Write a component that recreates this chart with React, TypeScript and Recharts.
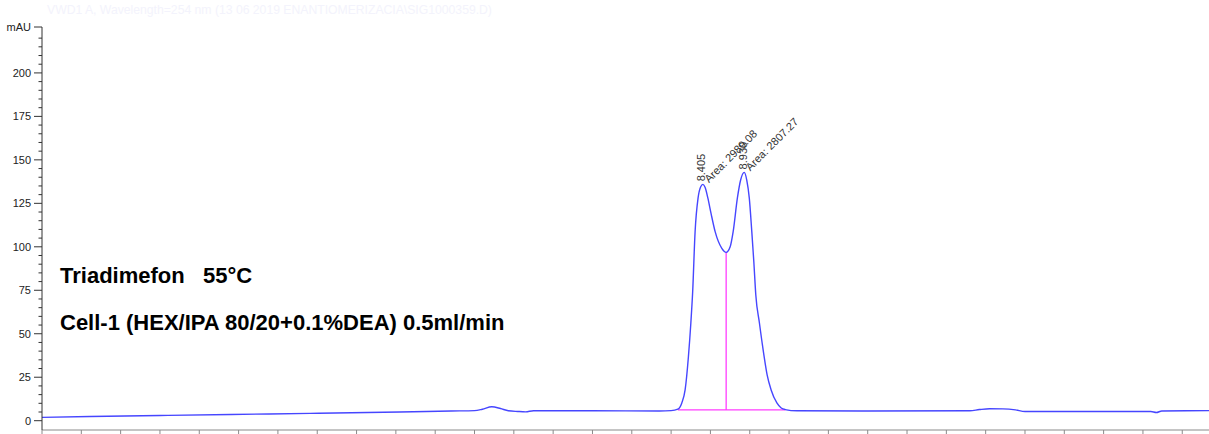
import { LineChart, Line, XAxis, YAxis, ReferenceLine, ReferenceDot } from "recharts"

// retention time (min) and detector signal (mAU)
const TIME = [
  0.0, 0.61, 1.5, 2.4, 3.41, 4.55, 5.2, 5.5, 5.6, 5.72, 5.83, 5.93, 6.05, 6.15, 6.25,
  7.0, 7.85, 8.0,
  8.085, 8.136, 8.178, 8.22, 8.251, 8.274, 8.305, 8.343, 8.375, 8.405, 8.433, 8.467,
  8.509, 8.56, 8.645, 8.7, 8.751, 8.789, 8.843, 8.884, 8.93, 8.962, 8.994, 9.026,
  9.052, 9.077, 9.123, 9.183, 9.221, 9.272, 9.345, 9.4, 9.451,
  9.6, 10.5, 11.8, 11.92, 12.05, 12.22, 12.38, 12.5, 13.5, 14.1, 14.17, 14.24, 14.84,
]
const SIGNAL = [
  1.9, 2.4, 3.0, 3.6, 4.2, 5.0, 5.6, 5.8, 6.6, 8.0, 7.0, 5.7, 5.3, 5.1, 5.7,
  5.7, 5.6, 5.8,
  6.6, 10.2, 17.7, 36.8, 56.2, 74.0, 108.7, 128.1, 134.4, 135.9, 134.1, 128.1,
  118.9, 108.7, 99.1, 96.8, 100.0, 108.7, 128.1, 138.4, 142.8, 138.4, 128.1, 108.7,
  91.3, 72.3, 56.2, 36.8, 26.3, 17.7, 10.2, 7.3, 6.4,
  5.7, 5.6, 5.7, 6.4, 6.9, 6.8, 6.2, 5.3, 5.3, 5.3, 4.7, 5.6, 5.8,
]

const X_MAX = 14.84
const Y_BOTTOM = -5.35
const Y_TOP = 226.4

const X_TICKS = [
  0, 0.5, 1, 1.5, 2, 2.5, 3, 3.5, 4, 4.5, 5, 5.5, 6, 6.5, 7, 7.5, 8, 8.5, 9, 9.5,
  10, 10.5, 11, 11.5, 12, 12.5, 13, 13.5, 14, 14.5,
]
const Y_TICKS = [
  0, 5, 10, 15, 20, 25, 30, 35, 40, 45, 50, 55, 60, 65, 70, 75, 80, 85, 90, 95, 100,
  105, 110, 115, 120, 125, 130, 135, 140, 145, 150, 155, 160, 165, 170, 175, 180,
  185, 190, 195, 200, 205, 210, 215, 220, Y_TOP,
]

const PEAKS = [
  { t: 8.405, v: 135.9, rt: "8.405", area: "Area: 2989.08" },
  { t: 8.93, v: 142.8, rt: "8.930", area: "Area: 2807.27" },
]

const INTEGRATION_BASE = [{ x: 8.085, y: 6.2 }, { x: 9.451, y: 6.2 }]
const VALLEY_DROP = [{ x: 8.7, y: 6.2 }, { x: 8.7, y: 96.8 }]

const TITLE = "VWD1 A, Wavelength=254 nm (13 06 2019 ENANTIOMERIZACIA\\SIG1000359.D)"
const NOTE_1 = "Triadimefon   55°C"
const NOTE_2 = "Cell-1 (HEX/IPA 80/20+0.1%DEA) 0.5ml/min"

const data = TIME.map((t, i) => ({ t, v: SIGNAL[i] }))

const FONT = "'Liberation Sans', Arial, sans-serif"

function YTick({ x, y, payload }: any) {
  const v = payload.value
  const top = v === Y_TOP
  const major = top || v % 25 === 0
  return (
    <g>
      <line x1={x - (major ? 8 : 3.5)} x2={x} y1={y} y2={y} stroke="#333" strokeWidth={1} />
      {major && (
        <text x={x - 11} y={y} dy={4} textAnchor="end" fontSize={11} fontFamily={FONT} fill="#222">
          {top ? "mAU" : v}
        </text>
      )}
    </g>
  )
}

function PeakLabel({ cx, cy, peak }: any) {
  return (
    <g fontFamily={FONT} fontSize={11} fill="#333">
      <text transform={`translate(${cx + 2.5},${cy - 3}) rotate(-90)`}>{peak.rt}</text>
      <text transform={`translate(${cx + 6},${cy - 1}) rotate(-45)`}>{peak.area}</text>
    </g>
  )
}

export default function App() {
  return (
    <div style={{ position: "absolute", left: 0, top: 0, width: 1209, height: 434, background: "#fff" }}>
      <LineChart
        width={1209}
        height={434}
        data={data}
        margin={{ top: 27, right: 0, bottom: 0, left: 0 }}
      >
        <XAxis
          type="number"
          dataKey="t"
          domain={[0, X_MAX]}
          ticks={X_TICKS}
          interval={0}
          allowDataOverflow
          height={4}
          tickSize={5}
          tickFormatter={() => ""}
          stroke="#8a8a8a"
        />
        <YAxis
          type="number"
          domain={[Y_BOTTOM, Y_TOP]}
          ticks={Y_TICKS}
          interval={0}
          allowDataOverflow
          width={42}
          tickSize={0}
          tickMargin={0}
          tickLine={false}
          tick={YTick}
          stroke="#333"
        />
        <ReferenceLine segment={INTEGRATION_BASE} stroke="#ff3dff" strokeWidth={1.3} />
        <ReferenceLine segment={VALLEY_DROP} stroke="#ff3dff" strokeWidth={1.3} />
        <Line
          type="monotone"
          dataKey="v"
          stroke="#4646ff"
          strokeWidth={1.4}
          dot={false}
          isAnimationActive={false}
        />
        {PEAKS.map((p) => (
          <ReferenceDot
            key={p.rt}
            x={p.t}
            y={p.v}
            r={0}
            shape={(props: any) => <PeakLabel {...props} peak={p} />}
          />
        ))}
      </LineChart>
      <svg
        width={1209}
        height={434}
        style={{ position: "absolute", left: 0, top: 0, pointerEvents: "none" }}
      >
        <text x={47} y={14} fontSize={12.2} fontFamily={FONT} fill="#f3f3fc">{TITLE}</text>
        <text x={60} y={283} fontSize={22} fontWeight="bold" fontFamily={FONT} fill="#000" style={{ whiteSpace: "pre" }}>
          {NOTE_1}
        </text>
        <text x={60} y={330} fontSize={22} fontWeight="bold" fontFamily={FONT} fill="#000">
          {NOTE_2}
        </text>
      </svg>
    </div>
  )
}
